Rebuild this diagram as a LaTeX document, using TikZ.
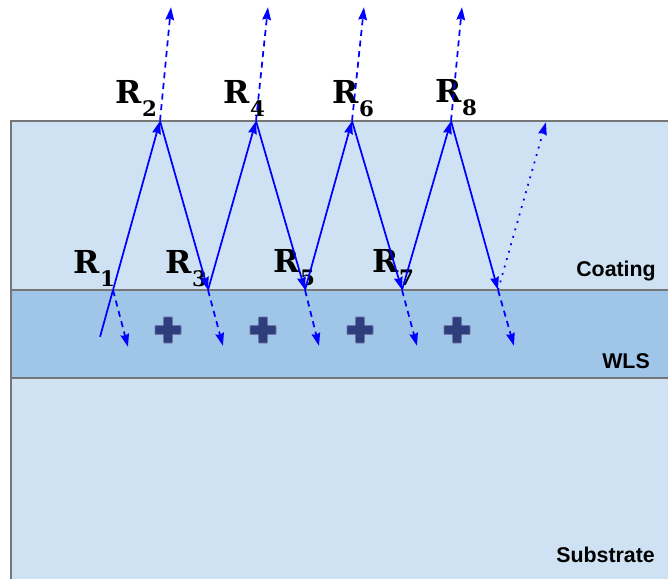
\documentclass[tikz,border=0pt]{standalone}
\usepackage{fontspec}
\usepackage{tikz}
\usetikzlibrary{arrows.meta}
\newfontfamily\layerfont{Liberation Sans}
\newfontfamily\rfont{DejaVu Serif}
\newcommand\rsub[1]{\kern0.5pt\raisebox{-9.75pt}{\fontsize{16}{17}\selectfont\bfseries#1}}
\definecolor{coatblue}{HTML}{CFE2F3}
\definecolor{wlsblue}{HTML}{9FC5E8}
\definecolor{edgegray}{HTML}{767676}
\definecolor{plusnavy}{HTML}{2E3D7C}

\begin{document}
\begin{tikzpicture}[x=0.75pt,y=-0.75pt,
		rlab/.style = {font=\rfont\bfseries\fontsize{23.7}{25}\selectfont,
			anchor=base west, inner sep=0pt},
		ept/.style = {inner sep=0pt, minimum size=0pt},
		ray/.style = {draw=blue, line width=1.3pt,
			-{Stealth[length=9.5pt,width=6.5pt,inset=1pt]}},
		trans/.style = {ray, dash pattern=on 4.5pt off 3.5pt},
		weak/.style = {ray, dash pattern=on 1.4pt off 4.4pt},
		layer/.style = {font=\layerfont\bfseries\fontsize{16}{18}\selectfont,
			anchor=base east, inner sep=0pt},
		border/.style = {draw=edgegray, line width=1.5pt},
		plus/.style = {fill=plusnavy, draw=plusnavy!70!white, line width=0.6pt,
			rounded corners=0.6pt}
		]
		\useasboundingbox (0,0) rectangle (668,579);
		% layers
		\fill[coatblue] (11,121) rectangle (668,290);
		\fill[wlsblue] (11,290) rectangle (668,378);
		\fill[coatblue] (11,378) rectangle (668,579);
		\draw[border] (668,121) -- (11,121) -- (11,579);
		\draw[border] (11,290) -- (668,290);
		\draw[border] (11,378) -- (668,378);
		\node (coat) [layer] at (656,276) {Coating};
		\node (wls) [layer] at (650,368) {WLS};
		\node (sub) [layer] at (655,562) {Substrate};
		% wavelength shifter
		\foreach \x in {168,263,360,457}
		\filldraw[plus, shift={(\x,330)}] (-4.5,-13) -- (4.5,-13) -- (4.5,-4.5)
			-- (13,-4.5) -- (13,4.5) -- (4.5,4.5) -- (4.5,13) -- (-4.5,13)
			-- (-4.5,4.5) -- (-13,4.5) -- (-13,-4.5) -- (-4.5,-4.5) -- cycle;
		% labels
		\node (l1) [rlab] at (73,273) {R\rsub{1}};
		\node (l2) [rlab] at (115,103) {R\rsub{2}};
		\node (l3) [rlab] at (165,273) {R\rsub{3}};
		\node (l4) [rlab] at (223,103) {R\rsub{4}};
		\node (l5) [rlab] at (273,272) {R\rsub{5}};
		\node (l6) [rlab] at (332,103) {R\rsub{6}};
		\node (l7) [rlab] at (372,272) {R\rsub{7}};
		\node (l8) [rlab] at (435,102) {R\rsub{8}};
		% reflection points
		\node (s0) [ept] at (100,337) {};
		\node (r1) [ept] at (113,290) {};
		\node (r2) [ept] at (160,121) {};
		\node (r3) [ept] at (208,290) {};
		\node (r4) [ept] at (256,121) {};
		\node (r5) [ept] at (305,290) {};
		\node (r6) [ept] at (352,121) {};
		\node (r7) [ept] at (402,290) {};
		\node (r8) [ept] at (451,121) {};
		\node (r9) [ept] at (498,290) {};
		% transmitted ends
		\node (u2) [ept] at (171,7) {};
		\node (u4) [ept] at (268,7) {};
		\node (u6) [ept] at (364,7) {};
		\node (u8) [ept] at (462,7) {};
		\node (d1) [ept] at (128,347) {};
		\node (d3) [ept] at (223,346) {};
		\node (d5) [ept] at (319,346) {};
		\node (d7) [ept] at (417,346) {};
		\node (d9) [ept] at (514,346) {};
		\node (e9) [ept] at (546,122) {};
		\draw[blue, line width=1.3pt] (s0) -- (r1);
		\foreach \from/\to in {r1/r2, r2/r3, r3/r4, r4/r5, r5/r6, r6/r7, r7/r8, r8/r9}
		\draw[ray] (\from) -- (\to);
		\foreach \from/\to in {r2/u2, r4/u4, r6/u6, r8/u8, r1/d1, r3/d3, r5/d5, r7/d7, r9/d9}
		\draw[trans] (\from) -- (\to);
		\draw[weak] (r9) -- (e9);
	\end{tikzpicture}
\end{document}
